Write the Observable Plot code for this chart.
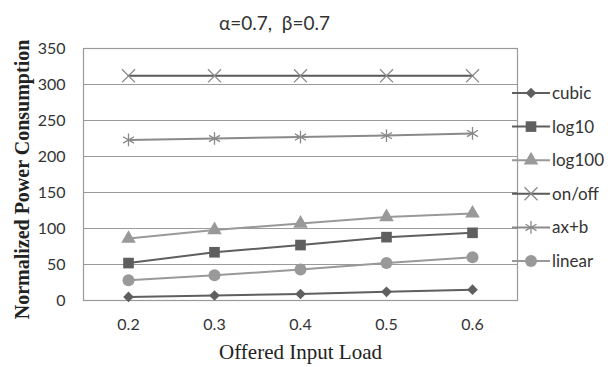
<!DOCTYPE html>
<html>
<head>
<meta charset="utf-8">
<script src="https://cdn.jsdelivr.net/npm/d3@7"></script>
<script src="https://cdn.jsdelivr.net/npm/@observablehq/plot@0.6"></script>
<style>
  html, body { margin: 0; padding: 0; background: #fff; }
  #wrap { position: relative; width: 611px; height: 367px; }
  #legend { position: absolute; left: 0; top: 0; }
</style>
</head>
<body>
<div id="wrap"></div>
<script>
const loads = ["0.2", "0.3", "0.4", "0.5", "0.6"];
const seriesNames = ["cubic", "log10", "log100", "on/off", "ax+b", "linear"];
const cubic  = [5, 7, 9, 12, 15];
const log10  = [52, 67, 77, 88, 94];
const log100 = [86, 98, 107, 116, 121];
const onoff  = [312, 312, 312, 312, 312];
const axb    = [223, 225, 227, 229, 232];
const linear = [28, 35, 43, 52, 60];
const yTicks = [0, 50, 100, 150, 200, 250, 300, 350];

const valuesByName = {"cubic": cubic, "log10": log10, "log100": log100, "on/off": onoff, "ax+b": axb, "linear": linear};
const styles = {
  "cubic":  {line: "#5f5f5f", mark: "#5f5f5f", symbol: "diamond2", r: 4.8, filled: true},
  "log10":  {line: "#5f5f5f", mark: "#5f5f5f", symbol: "square", r: 6, filled: true},
  "log100": {line: "#999999", mark: "#999999", symbol: "triangle", r: 5.4, filled: true},
  "on/off": {line: "#5a5a5a", mark: "#8a8a8a", symbol: "times", r: 6, filled: false},
  "ax+b":   {line: "#8a8a8a", mark: "#8a8a8a", symbol: "asterisk", r: 6, filled: false},
  "linear": {line: "#999999", mark: "#999999", symbol: "circle", r: 6, filled: true}
};

const rows = [];
for (const name of seriesNames) {
  valuesByName[name].forEach((v, i) => rows.push({series: name, load: loads[i], value: v}));
}

const marks = [
  Plot.gridY(yTicks, {stroke: "#9a9a9a", strokeOpacity: 1, strokeWidth: 1}),
  Plot.frame({stroke: "#9a9a9a", strokeWidth: 1.2}),
  Plot.axisY(yTicks, {tickSize: 0, tickPadding: 18, label: null, fontSize: 16, fill: "#333"}),
  Plot.axisX(loads, {tickSize: 0, tickPadding: 18, label: null, fontSize: 16, fill: "#333"}),
];
for (const name of seriesNames) {
  const s = styles[name];
  const data = rows.filter(d => d.series === name);
  marks.push(Plot.line(data, {x: "load", y: "value", stroke: s.line, strokeWidth: 2}));
  if (s.filled) {
    marks.push(Plot.dot(data, {x: "load", y: "value", symbol: () => s.symbol, r: s.r, fill: s.mark, stroke: "none"}));
  } else {
    marks.push(Plot.dot(data, {x: "load", y: "value", symbol: () => s.symbol, r: s.r, stroke: s.mark, strokeWidth: 1.3, fill: "none"}));
  }
}
marks.push(Plot.text(["α=0.7,  β=0.7"], {frameAnchor: "top", dy: -32, dx: -26, fontSize: 19, fill: "#333", fontFamily: "Lato"}));
marks.push(Plot.text(["Normalized Power Consumption"], {frameAnchor: "left", textAnchor: "middle", dx: -61, dy: 5, rotate: -90, fontSize: 20, fontWeight: "bold", fill: "#222", fontFamily: "Liberation Serif"}));
marks.push(Plot.text(["Offered Input Load"], {frameAnchor: "bottom", dy: 58, dx: 0, fontSize: 21, fill: "#222", fontFamily: "Liberation Serif"}));

const chart = Plot.plot({
  width: 611,
  height: 367,
  marginLeft: 83,
  marginRight: 94,
  marginTop: 48,
  marginBottom: 67,
  style: {fontFamily: "Lato", background: "#fff", overflow: "visible"},
  x: {type: "point", domain: loads, padding: 0.5, axis: null},
  y: {domain: [0, 350], axis: null},
  symbol: {type: "identity"},
  marks
});
document.getElementById("wrap").appendChild(chart);

// legend
const leg = d3.select("#wrap").append("svg")
  .attr("id", "legend").attr("width", 611).attr("height", 367);
const symMap = {diamond2: d3.symbolDiamond2, square: d3.symbolSquare, triangle: d3.symbolTriangle,
  times: d3.symbolTimes, asterisk: d3.symbolAsterisk, circle: d3.symbolCircle};
seriesNames.forEach((name, i) => {
  const s = styles[name];
  const cy = 93 + i * 33.6;
  const g = leg.append("g").attr("transform", `translate(0,${cy})`);
  g.append("line").attr("x1", 512).attr("x2", 550).attr("y1", 0).attr("y2", 0)
    .attr("stroke", s.line).attr("stroke-width", 2);
  const p = d3.symbol(symMap[s.symbol], Math.PI * s.r * s.r)();
  const path = g.append("path").attr("d", p).attr("transform", "translate(531,0)");
  if (s.filled) path.attr("fill", s.mark);
  else path.attr("fill", "none").attr("stroke", s.mark).attr("stroke-width", 1.3);
  g.append("text").attr("x", 552).attr("y", 0).attr("dy", "0.35em")
    .attr("font-family", "Lato").attr("font-size", 17).attr("fill", "#333").text(name);
});
</script>
</body>
</html>
